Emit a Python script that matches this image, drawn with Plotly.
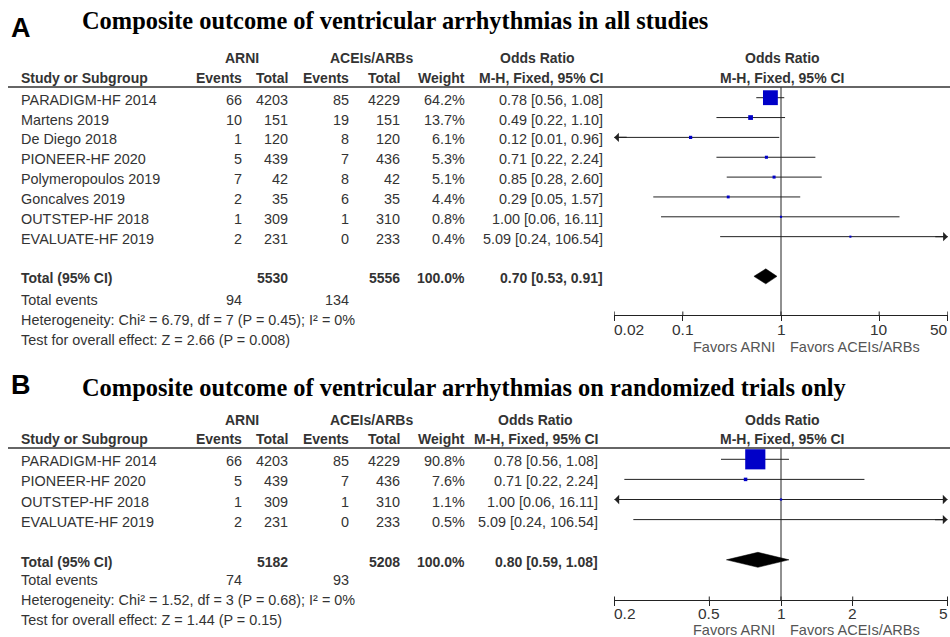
import math
import plotly.graph_objects as go

W, H = 950, 637

# ---------------- Panel A data ----------------
title_a = "Composite outcome of ventricular arrhythmias in all studies"
studies_a = ["PARADIGM-HF 2014", "Martens 2019", "De Diego 2018", "PIONEER-HF 2020",
             "Polymeropoulos 2019", "Goncalves 2019", "OUTSTEP-HF 2018", "EVALUATE-HF 2019"]
arni_events_a = [66, 10, 1, 5, 7, 2, 1, 2]
arni_total_a = [4203, 151, 120, 439, 42, 35, 309, 231]
ace_events_a = [85, 19, 8, 7, 8, 6, 1, 0]
ace_total_a = [4229, 151, 120, 436, 42, 35, 310, 233]
weight_a = [64.2, 13.7, 6.1, 5.3, 5.1, 4.4, 0.8, 0.4]
or_a = [0.78, 0.49, 0.12, 0.71, 0.85, 0.29, 1.00, 5.09]
lo_a = [0.56, 0.22, 0.01, 0.22, 0.28, 0.05, 0.06, 0.24]
hi_a = [1.08, 1.10, 0.96, 2.24, 2.60, 1.57, 16.11, 106.54]
total_arni_a = 5530
total_ace_a = 5556
total_or_a = [0.70, 0.53, 0.91]
events_a = [94, 134]
het_a = "Heterogeneity: Chi² = 6.79, df = 7 (P = 0.45); I² = 0%"
test_a = "Test for overall effect: Z = 2.66 (P = 0.008)"
ticks_a = [0.02, 0.1, 1, 10, 50]
tick_text_a = ["0.02", "0.1", "1", "10", "50"]

# ---------------- Panel B data ----------------
title_b = "Composite outcome of ventricular arrhythmias on randomized trials only"
studies_b = ["PARADIGM-HF 2014", "PIONEER-HF 2020", "OUTSTEP-HF 2018", "EVALUATE-HF 2019"]
arni_events_b = [66, 5, 1, 2]
arni_total_b = [4203, 439, 309, 231]
ace_events_b = [85, 7, 1, 0]
ace_total_b = [4229, 436, 310, 233]
weight_b = [90.8, 7.6, 1.1, 0.5]
or_b = [0.78, 0.71, 1.00, 5.09]
lo_b = [0.56, 0.22, 0.06, 0.24]
hi_b = [1.08, 2.24, 16.11, 106.54]
total_arni_b = 5182
total_ace_b = 5208
total_or_b = [0.80, 0.59, 1.08]
events_b = [74, 93]
het_b = "Heterogeneity: Chi² = 1.52, df = 3 (P = 0.68); I² = 0%"
test_b = "Test for overall effect: Z = 1.44 (P = 0.15)"
ticks_b = [0.2, 0.5, 1, 2, 5]
tick_text_b = ["0.2", "0.5", "1", "2", "5"]

# ---------------- styling / layout geometry (pixels) ----------------
TXT = "#333333"
SANS = "Arial, Liberation Sans, sans-serif"
SERIF = "Times New Roman, Liberation Serif, serif"
FS_REG = 14.4
FS_BOLD = 14
BLUE = "#0000C8"
STUDY_X, EV1_X, TOT1_X, EV2_X, TOT2_X, W_X = 21, 242, 288, 349, 400, 465
PLOT_X0, PLOT_X1 = 614, 948

geo_a = dict(letter_y=28, title_y=21, title_size=24.4, h1=58, h2=78, line=87, row0=97.7,
             step=19.85, axis=315, tlab=329, fav=347, foot=[300, 320, 340], ci_x=603,
             or_hdr=537)
geo_b = dict(letter_y=385, title_y=387, title_size=24.4, h1=420, h2=439, line=448,
             row0=459.3, step=20.1, axis=600, tlab=613, fav=630, foot=[580, 600, 620],
             ci_x=598, or_hdr=535)

fig = go.Figure()
annotations = []
shapes = []


def ppx(p):
    return p / W


def ppy(p):
    return 1 - p / H


def text(x, y, s, anchor="left", bold=False, size=None, color=TXT, family=SANS,
         yref="paper", yshift=0):
    if size is None:
        size = FS_BOLD if bold else FS_REG
    annotations.append(dict(
        x=ppx(x), y=(ppy(y) if yref == "paper" else y), xref="paper", yref=yref,
        text=(f"<b>{s}</b>" if bold else s), showarrow=False, xanchor=anchor,
        yanchor="middle", yshift=yshift, borderpad=0, borderwidth=0,
        font=dict(family=family, size=size, color=color)))


def fmt_ci(v):
    return f"{v[0]:.2f} [{v[1]:.2f}, {v[2]:.2f}]"


def panel(idx, letter, title, studies, ev1, n1, ev2, n2, wts, ors, los, his,
          tot1, tot2, tot_or, events, het, test, ticks, tick_text, g):
    xname = "xaxis" if idx == 1 else f"xaxis{idx}"
    yname = "yaxis" if idx == 1 else f"yaxis{idx}"
    xr = "x" if idx == 1 else f"x{idx}"
    yr = "y" if idx == 1 else f"y{idx}"
    step = g["step"]
    r_top = (g["line"] - g["row0"]) / step
    r_bot = (g["axis"] - g["row0"]) / step
    lmin, lmax = math.log10(ticks[0]), math.log10(ticks[-1])
    pad = 0.002

    fig.update_layout({
        xname: dict(type="log", range=[lmin - pad, lmax + pad],
                    domain=[ppx(PLOT_X0), ppx(PLOT_X1)], anchor=yr,
                    showline=True, linecolor="#222222", linewidth=1,
                    showgrid=False, zeroline=False, showticklabels=False,
                    ticks="outside", ticklen=5, tickwidth=1, tickcolor="#222222",
                    tickmode="array", tickvals=ticks, fixedrange=True),
        yname: dict(range=[r_bot, r_top], domain=[ppy(g["axis"]), ppy(g["line"])],
                    anchor=xr, visible=False, fixedrange=True),
    })

    # letter + title
    text(11, g["letter_y"], letter, bold=True, size=27, color="#000000")
    text(82, g["title_y"], title, bold=True, size=g["title_size"], color="#000000",
         family=SERIF)

    # headers
    text(EV1_X, g["h1"], "ARNI", anchor="center", bold=True)
    text((EV2_X + TOT2_X) / 2 - 3, g["h1"], "ACEIs/ARBs", anchor="center", bold=True)
    text(g["or_hdr"], g["h1"], "Odds Ratio", anchor="center", bold=True)
    text(782, g["h1"], "Odds Ratio", anchor="center", bold=True)
    text(STUDY_X, g["h2"], "Study or Subgroup", bold=True)
    text(EV1_X, g["h2"], "Events", anchor="right", bold=True)
    text(TOT1_X, g["h2"], "Total", anchor="right", bold=True)
    text(EV2_X, g["h2"], "Events", anchor="right", bold=True)
    text(TOT2_X, g["h2"], "Total", anchor="right", bold=True)
    text(W_X, g["h2"], "Weight", anchor="right", bold=True)
    text(g["ci_x"], g["h2"], "M-H, Fixed, 95% CI", anchor="right", bold=True)
    text(782, g["h2"], "M-H, Fixed, 95% CI", anchor="center", bold=True)
    shapes.append(dict(type="line", xref="paper", yref="paper", x0=ppx(8), x1=1.0,
                       y0=ppy(g["line"]), y1=ppy(g["line"]),
                       line=dict(color="#333333", width=1.5)))

    # study rows (text)
    n = len(studies)
    for i in range(n):
        text(STUDY_X, i, studies[i], yref=yr, yshift=-2)
        text(EV1_X, i, str(ev1[i]), anchor="right", yref=yr, yshift=-2)
        text(TOT1_X, i, str(n1[i]), anchor="right", yref=yr, yshift=-2)
        text(EV2_X, i, str(ev2[i]), anchor="right", yref=yr, yshift=-2)
        text(TOT2_X, i, str(n2[i]), anchor="right", yref=yr, yshift=-2)
        text(W_X, i, f"{wts[i]:.1f}%", anchor="right", yref=yr, yshift=-2)
        text(g["ci_x"], i, fmt_ci([ors[i], los[i], his[i]]), anchor="right", yref=yr,
             yshift=-2)

    # total row
    tr = n + 1
    text(STUDY_X, tr, "Total (95% CI)", bold=True, yref=yr, yshift=-2)
    text(TOT1_X, tr, str(tot1), anchor="right", bold=True, yref=yr, yshift=-2)
    text(TOT2_X, tr, str(tot2), anchor="right", bold=True, yref=yr, yshift=-2)
    text(W_X, tr, "100.0%", anchor="right", bold=True, yref=yr, yshift=-2)
    text(g["ci_x"], tr, fmt_ci(tot_or), anchor="right", bold=True, yref=yr, yshift=-2)

    # footer
    text(STUDY_X, g["foot"][0], "Total events")
    text(EV1_X, g["foot"][0], str(events[0]), anchor="right")
    text(EV2_X, g["foot"][0], str(events[1]), anchor="right")
    text(STUDY_X, g["foot"][1], het)
    text(STUDY_X, g["foot"][2], test)

    # reference line at OR = 1
    fig.add_trace(go.Scatter(x=[1, 1], y=[r_top, r_bot], mode="lines",
                             line=dict(color="#222222", width=1),
                             xaxis=xr, yaxis=yr, hoverinfo="skip", showlegend=False))
    # upward parts of tick marks
    tx, ty = [], []
    for t in ticks:
        tx += [t, t, None]
        ty += [r_bot, r_bot - 3.5 / step, None]
    fig.add_trace(go.Scatter(x=tx, y=ty, mode="lines", line=dict(color="#222222", width=1),
                             xaxis=xr, yaxis=yr, hoverinfo="skip", showlegend=False))

    # CI lines
    for i in range(n):
        x0 = max(los[i], ticks[0])
        x1 = min(his[i], ticks[-1])
        fig.add_trace(go.Scatter(x=[x0, x1], y=[i, i], mode="lines",
                                 line=dict(color="#222222", width=1),
                                 xaxis=xr, yaxis=yr, hoverinfo="skip", showlegend=False))
        if los[i] < ticks[0]:
            annotations.append(dict(x=lmin, y=i, xref=xr, yref=yr, text="", showarrow=True,
                                    ax=14, ay=0, arrowhead=1, arrowsize=1.3, arrowwidth=1.2,
                                    arrowcolor="#222222"))
        if his[i] > ticks[-1]:
            annotations.append(dict(x=lmax, y=i, xref=xr, yref=yr, text="", showarrow=True,
                                    ax=-14, ay=0, arrowhead=1, arrowsize=1.3, arrowwidth=1.2,
                                    arrowcolor="#222222"))

    # study squares
    fig.add_trace(go.Scatter(x=ors, y=list(range(n)), mode="markers",
                             marker=dict(symbol="square", color=BLUE, opacity=1,
                                         size=[2 + 0.2 * w for w in wts],
                                         line=dict(width=0)),
                             cliponaxis=False, xaxis=xr, yaxis=yr,
                             hoverinfo="skip", showlegend=False))

    # overall diamond
    hh = 7.5 / step
    fig.add_trace(go.Scatter(x=[tot_or[1], tot_or[0], tot_or[2], tot_or[0], tot_or[1]],
                             y=[tr, tr - hh, tr, tr + hh, tr], mode="lines", fill="toself",
                             fillcolor="#000000", line=dict(color="#000000", width=0.5),
                             xaxis=xr, yaxis=yr, hoverinfo="skip", showlegend=False))

    # tick labels (edge labels kept inside the axis)
    for k, (t, lab) in enumerate(zip(ticks, tick_text)):
        anchor = "left" if k == 0 else ("right" if k == len(ticks) - 1 else "center")
        annotations.append(dict(x=math.log10(t), y=ppy(g["tlab"]), xref=xr, yref="paper",
                                text=lab, showarrow=False, xanchor=anchor, yanchor="middle",
                                borderpad=0, borderwidth=0,
                                font=dict(family=SANS, size=15.5, color=TXT)))
    text(775, g["fav"], "Favors ARNI", anchor="right", color="#555555", size=14.5)
    text(790, g["fav"], "Favors ACEIs/ARBs", anchor="left", color="#555555", size=14.5)


panel(1, "A", title_a, studies_a, arni_events_a, arni_total_a, ace_events_a, ace_total_a,
      weight_a, or_a, lo_a, hi_a, total_arni_a, total_ace_a, total_or_a, events_a,
      het_a, test_a, ticks_a, tick_text_a, geo_a)
panel(2, "B", title_b, studies_b, arni_events_b, arni_total_b, ace_events_b, ace_total_b,
      weight_b, or_b, lo_b, hi_b, total_arni_b, total_ace_b, total_or_b, events_b,
      het_b, test_b, ticks_b, tick_text_b, geo_b)

fig.update_layout(width=W, height=H, margin=dict(l=0, r=0, t=0, b=0),
                  paper_bgcolor="white", plot_bgcolor="white",
                  annotations=annotations, shapes=shapes, showlegend=False)
fig.write_html("out.html", config={"displayModeBar": False},
               post_script="document.body.style.margin='0';document.body.style.padding='0';")
